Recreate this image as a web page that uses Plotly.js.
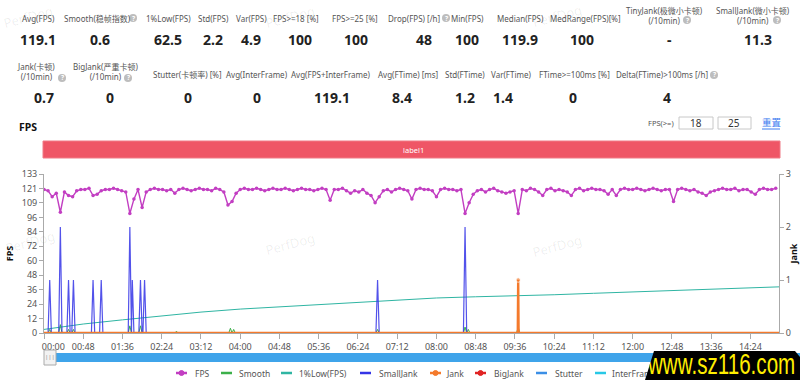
<!DOCTYPE html>
<html><head><meta charset="utf-8">
<script src="https://cdn.plot.ly/plotly-3.0.1.min.js"></script>
<style>
body{margin:0;padding:0;background:#fff;}
#chart{width:800px;height:380px;position:relative;}
#badge{position:absolute;left:645px;top:351px;width:155px;height:29px;background:#000;z-index:10;overflow:hidden;
  clip-path:polygon(9px 0,150px 0,155px 6px,155px 100%,0 100%);}
#badge span{position:absolute;left:3px;top:0px;color:#ffee00;font-family:"Liberation Sans Narrow","Liberation Sans",sans-serif;font-weight:normal;font-size:22px;line-height:22px;transform-origin:left top;white-space:nowrap;}
</style>
</head><body>
<div id="wrap" style="position:relative;width:800px;height:380px;">
<div id="chart"></div>
<div id="badge"><span id="badgeText">www.sz116.com</span></div>
</div>
<script>
// ---------- data ----------
const fpsTime = [0,5,10,15,20,25,30,35,40,45,50,55,60,65,70,75,80,85,90,95,100,105,110,115,120,125,130,135,140,145,150,155,160,165,170,175,180,185,190,195,200,205,210,215,220,225,230,235,240,245,250,255,260,265,270,275,280,285,290,295,300,305,310,315,320,325,330,335,340,345,350,355,360,365,370,375,380,385,390,395,400,405,410,415,420,425,430,435,440,445,450,455,460,465,470,475,480,485,490,495,500,505,510,515,520,525,530,535,540,545,550,555,560,565,570,575,580,585,590,595,600,605,610,615,620,625,630,635,640,645,650,655,660,665,670,675,680,685,690,695,700,705,710,715,720,725,730,735,740,745,750,755,760,765,770,775,780,785,790,795,800,805,810,815,820,825,830,835,840,845,850,855,860,865,870,875,880,885,890,895];
const fpsValue = [120,119,114,117,101,118,115,114,119,120,120,121,115,116,119,120,120,121,120,119,118,100,112,120,105,118,120,121,120,120,119,120,117,120,121,120,119,120,121,120,120,119,121,120,118,107,110,117,120,121,120,120,121,120,119,120,121,120,120,121,120,119,120,121,120,120,119,120,121,120,111,120,120,121,119,117,119,118,120,117,115,109,114,119,120,118,120,121,120,119,112,120,121,120,120,119,114,120,121,120,120,119,120,100,109,116,119,120,118,120,121,119,118,117,118,119,100,120,119,121,120,118,115,120,121,119,120,119,118,115,120,121,119,120,121,120,120,119,116,120,115,120,121,120,120,121,120,119,120,121,120,119,120,120,110,120,121,120,119,120,118,117,115,118,119,120,121,120,120,121,119,120,120,118,116,120,121,120,120,121];

const lowTime  = [0,48,96,144,192,240,288,336,384,432,480,528,576,624,672,720,768,816,864,899];
const lowValue = [3,7.5,11,14.5,17.5,20,21.9,23.8,25.8,28,29.3,30.3,31,32,33.2,34.4,35.6,36.7,37.8,38.6];

const smoothTime  = [0,5,7,9,18,20,22,28,30,32,34,36,38,103,105,107,116,118,120,160,162,164,226,228,230,232,234,406,408,410,513,515,517,519,521,578,580,582,899];
const smoothValue = [0,0,3,0,0,7,0,0,3,0,0,3,0,0,6,0,0,6,0,0,1.5,0,0,4,0,3,0,0,3,0,0,5,0,3,0,0,5,0,0];

const smallJankTime  = [0,5,7,9,18,20,22,28,30,32,34,36,38,58,60,62,68,70,72,103,105,107,108,110,116,118,120,121,123,125,406,408,410,513,515,517,899];
const smallJankValue = [0,0,1,0,0,2,0,0,1,0,0,1,0,0,1,0,0,1,0,0,2,0,1,0,0,1,0,0,1,0,0,1,0,0,2,0,0];

const jankTime  = [0,579.5,580,580.5,899];
const jankValue = [0,0,1,0,0];
const bigJankTime = [0,899];
const bigJankValue = [0,0];
const stutterTime = [0,899];
const stutterValue = [0,0];
const interTime = [0,899];
const interValue = [0,0];

const xTickVals = [0,48,96,144,192,240,288,336,384,432,480,528,576,624,672,720,768,816,864];
const xTickText = ['\u00a0\u00a0\u00a0\u00a0\u00a0\u00a0\u00a0\u00a000:00','00:48','01:36','02:24','03:12','04:00','04:48','05:36','06:24','07:12','08:00','08:48','09:36','10:24','11:12','12:00','12:48','13:36','14:24'];
const yTickText = ['0','12','24','36','48','60','72','84','96','109','121','133'];

const stats1Labels = ['Avg(FPS)','Smooth(稳帧指数)','1%Low(FPS)','Std(FPS)','Var(FPS)','FPS>=18 [%]','FPS>=25 [%]','Drop(FPS) [/h]','Min(FPS)','Median(FPS)','MedRange(FPS)[%]','TinyJank(极微小卡顿)<br>(/10min)','SmallJank(微小卡顿)<br>(/10min)'];
const stats1Values = ['119.1','0.6','62.5','2.2','4.9','100','100','48','100','119.9','100','-','11.3'];
const stats2Labels = ['Jank(卡顿)<br>(/10min)','BigJank(严重卡顿)<br>(/10min)','Stutter(卡顿率) [%]','Avg(InterFrame)','Avg(FPS+InterFrame)','Avg(FTime) [ms]','Std(FTime)','Var(FTime)','FTime>=100ms [%]','Delta(FTime)>100ms [/h]'];
const stats2Values = ['0.7','0','0','0','119.1','8.4','1.2','1.4','0','4'];

const legendNames = ['FPS','Smooth','1%Low(FPS)','SmallJank','Jank','BigJank','Stutter','InterFrame'];
const colors = {FPS:'#c23ec2',Smooth:'#3cb04a','1%Low(FPS)':'#2fb5a3',SmallJank:'#3434e6',Jank:'#f47a2c',BigJank:'#e02424',Stutter:'#3b8fe6',InterFrame:'#28c8e6'};

// ---------- layout helpers ----------
const ML=44, MR=21, MT=174, MB=47, W=800, H=380;
const PW=W-ML-MR, PH=H-MT-MB;
const px = X => (X-ML)/PW;
const py = Y => (H-MB-Y)/PH;
const FONT = 'Noto Sans, Noto Sans CJK SC, sans-serif';
const annotations = [], shapes = [];
function txt(X,Y,text,size,color,opts){
  opts = opts||{};
  annotations.push(Object.assign({xref:'paper',yref:'paper',x:px(X),y:py(Y),text:text,showarrow:false,
    xanchor:'center',yanchor:'middle',font:{family:FONT,size:size,color:color}},opts));
}
function qicon(X,Y){
  shapes.push({type:'circle',xref:'paper',yref:'paper',x0:px(X-4),x1:px(X+4),y0:py(Y+4),y1:py(Y-4),fillcolor:'#bdbdbd',line:{width:0}});
  txt(X,Y,'<b>?</b>',6.5,'#fff');
}

// stats row 1
const s1x = [38,97,168,213,251,296,355,414,467,520,585,664,753];
const s1vx = [38,100,168,213,251,300,356,424,467,520,582,669,758];
stats1Labels.forEach((l,i)=>{
  const two = l.indexOf('<br>')>=0;
  txt(s1x[i], two?15:18, l, 8, '#555', {align:'center'});
  txt(s1vx[i], 39, '<b>'+stats1Values[i]+'</b>', 14, '#222');
});
qicon(133,18); qicon(446,18); qicon(687,20); qicon(777,20);

// stats row 2
const s2x = [36,105,187,257,331,408,465,511,574,662];
const s2vx = [44,110,188,257,332,402,465,503,573,667];
stats2Labels.forEach((l,i)=>{
  const two = l.indexOf('<br>')>=0;
  txt(s2x[i], two?72:75, l, 8, '#555', {align:'center'});
  txt(s2vx[i], 97, '<b>'+stats2Values[i]+'</b>', 14, '#222');
});
qicon(62,78); qicon(128,78); qicon(714,75);

// section title & controls
txt(17,127,'<b>FPS</b>',10.5,'#111',{xanchor:'left'});
txt(661,123,'FPS(>=)',7.5,'#555');
shapes.push({type:'rect',xref:'paper',yref:'paper',x0:px(679),x1:px(713),y0:py(129),y1:py(117),fillcolor:'#fff',line:{color:'#c8c8c8',width:1}});
shapes.push({type:'rect',xref:'paper',yref:'paper',x0:px(718),x1:px(751),y0:py(129),y1:py(117),fillcolor:'#fff',line:{color:'#c8c8c8',width:1}});
txt(696,123,'18',10,'#333');
txt(734,123,'25',10,'#333');
txt(771,122,'重置',9.5,'#3d7cf0');
shapes.push({type:'line',xref:'paper',yref:'paper',x0:px(762),x1:px(780),y0:py(129),y1:py(129),line:{color:'#3d7cf0',width:1}});

// red label bar
shapes.push({type:'rect',xref:'paper',yref:'paper',x0:px(43),x1:px(780),y0:py(158),y1:py(141),fillcolor:'#ef5666',line:{color:'#f07a86',width:1}});
txt(401,150,'label1',7.5,'#fff',{xanchor:'left'});

// slider
shapes.push({type:'rect',xref:'paper',yref:'paper',x0:px(55),x1:px(800),y0:py(362),y1:py(353),fillcolor:'#3fa4ea',line:{width:0}});
shapes.push({type:'rect',xref:'paper',yref:'paper',x0:px(44),x1:px(56),y0:py(365),y1:py(350),fillcolor:'#f2f2f2',line:{color:'#aaa',width:1}});
txt(50,357,'|||',6,'#888');

// legend (manual)
const legX = [176,221,281,360,430,475,536,595];
const legTextX = [193,237,297,377,444,492,553,610];
legendNames.forEach((n,i)=>{
  const c = colors[n];
  shapes.push({type:'line',xref:'paper',yref:'paper',x0:px(legX[i]),x1:px(legX[i]+11),y0:py(373),y1:py(373),line:{color:c,width:2.5}});
  if(n==='FPS'||n==='Jank'||n==='BigJank'){
    shapes.push({type:'circle',xref:'paper',yref:'paper',x0:px(legX[i]+3),x1:px(legX[i]+8),y0:py(375.5),y1:py(370.5),fillcolor:c,line:{color:c,width:1}});
  }
  txt(legTextX[i],373,n,8.5,'#555',{xanchor:'left'});
});

// watermarks
[[28,17],[290,17],[557,16],[30,242],[290,244],[557,246]].forEach(p=>{
  txt(p[0],p[1],'PerfDog',13,'rgba(0,0,0,0.07)',{textangle:-15});
});

// ---------- traces ----------
const traces = [
  {x:lowTime,y:lowValue,mode:'lines',line:{color:colors['1%Low(FPS)'],width:1},yaxis:'y'},
  {x:stutterTime,y:stutterValue,mode:'lines',line:{color:colors.Stutter,width:1},yaxis:'y2'},
  {x:interTime,y:interValue,mode:'lines',line:{color:colors.InterFrame,width:1},yaxis:'y2'},
  {x:smoothTime,y:smoothValue,mode:'lines',line:{color:colors.Smooth,width:1},yaxis:'y'},
  {x:smallJankTime,y:smallJankValue,mode:'lines',line:{color:'rgba(52,52,230,0.85)',width:1.2},yaxis:'y2'},
  {x:bigJankTime,y:bigJankValue,mode:'lines',line:{color:colors.BigJank,width:2},yaxis:'y2'},
  {x:jankTime,y:jankValue,mode:'lines+markers',line:{color:colors.Jank,width:2.4},
    marker:{size:jankValue.map(v=>v>0?4.5:0),color:colors.Jank},yaxis:'y2'},
  {x:fpsTime,y:fpsValue,mode:'lines+markers',line:{color:colors.FPS,width:1.4},marker:{size:3.5,color:colors.FPS},yaxis:'y'}
];

const layout = {
  width:W,height:H,margin:{l:ML,r:MR,t:MT,b:MB,pad:0},
  paper_bgcolor:'#fff',plot_bgcolor:'#fff',showlegend:false,
  font:{family:FONT,size:9,color:'#555'},
  xaxis:{range:[0,899],showgrid:false,zeroline:false,showline:true,linecolor:'#aaa',linewidth:1,
    ticks:'outside',ticklen:5,tickcolor:'#aaa',tickvals:xTickVals,ticktext:xTickText,
    tickfont:{family:FONT,size:9,color:'#555'},fixedrange:true},
  yaxis:{range:[0,133],showgrid:false,zeroline:false,showline:true,linecolor:'#aaa',linewidth:1,
    ticks:'outside',ticklen:4,tickcolor:'#aaa',
    tickvals:yTickText.map((t,i)=>133*i/11),ticktext:yTickText,
    tickfont:{family:FONT,size:9,color:'#555'},
    title:{text:'<b>FPS</b>',font:{family:FONT,size:9,color:'#111'},standoff:6}},
  yaxis2:{range:[0,3],overlaying:'y',side:'right',showgrid:false,zeroline:false,showline:true,
    linecolor:'#aaa',linewidth:1,ticks:'outside',ticklen:4,tickcolor:'#aaa',dtick:1,
    tickfont:{family:FONT,size:9,color:'#555'},
    title:{text:'<b>Jank</b>',font:{family:FONT,size:9,color:'#111'},standoff:4}},
  annotations:annotations,shapes:shapes
};
Plotly.newPlot('chart',traces,layout,{staticPlot:true,displayModeBar:false});

// fit the site badge text into its box
(function(){
  const s = document.getElementById('badgeText');
  const w = s.offsetWidth || 1;
  const sx = 147 / w;
  s.style.transform = 'scale(' + sx.toFixed(3) + ',1.3)';
})();
</script>
</body></html>
